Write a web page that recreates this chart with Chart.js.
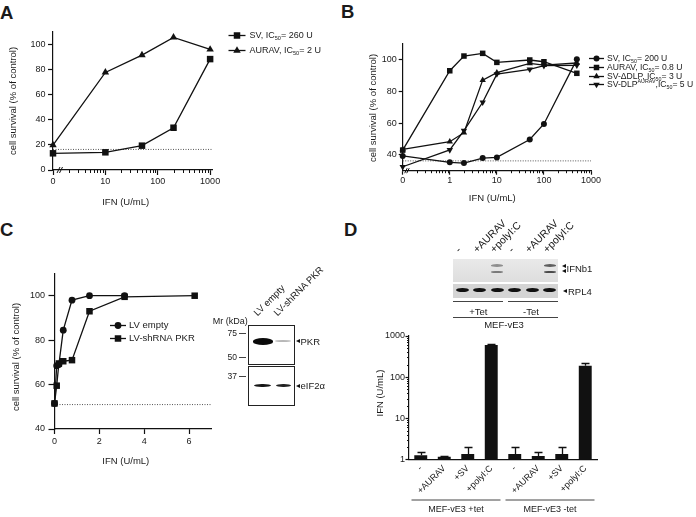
<!DOCTYPE html>
<html lang="en">
<head>
<meta charset="UTF-8">
<title>IFN sensitivity of SV and AURAV</title>
<script src="https://cdn.jsdelivr.net/npm/chart.js"></script>
<style>
  body { margin: 0; background: #fff; }
  #fig { position: relative; width: 696px; height: 517px; overflow: hidden; font-family: 'Liberation Sans', Arial, sans-serif; color: #1a1a1a; }
  #fig canvas { position: absolute; }
  .t { position: absolute; white-space: nowrap; line-height: 1; }
  .letter { position: absolute; font-weight: bold; font-size: 18.5px; line-height: 1; }
  .rot { position: absolute; white-space: nowrap; line-height: 10px; transform-origin: 0 100%; transform: rotate(-45deg); }
  .box { position: absolute; border: 1px solid #222; background: #fff; box-sizing: border-box; }
  .band { position: absolute; border-radius: 50%; filter: blur(0.6px); }
  .hl { position: absolute; height: 0; border-top: 1px solid #444; }
  .tri { position: absolute; width: 0; height: 0; border-top: 2.5px solid transparent; border-bottom: 2.5px solid transparent; border-right: 4px solid #111; }
</style>
</head>
<body>
<div id="fig">
  <div class="letter" style="left:0;top:4px">A</div>
  <div class="letter" style="left:341px;top:3px">B</div>
  <div class="letter" style="left:0;top:220.5px">C</div>
  <div class="letter" style="left:344px;top:221px">D</div>
  <canvas id="chartA"></canvas>
  <canvas id="chartB"></canvas>
  <canvas id="chartC"></canvas>
  <canvas id="chartD"></canvas>
</div>
<script>
// ---- panel A: IFN dose response, log axis ("0" drawn at 1) ----
const doseA = [1, 10, 50, 200, 1000];
const svA = [13.3, 14.1, 19.4, 33.7, 88.4];
const auravA = [19.9, 77.8, 91.6, 105.7, 96.1];
const cutoffA = 16.4;
const xTicksA = [1, 10, 100, 1000];
const xLabelsA = ['0', '10', '100', '1000'];
const yTicksA = [0, 20, 40, 60, 80, 100];

// ---- panel B ----
const doseB = [0.1, 1, 2, 5, 10, 50, 100, 500];
const svB = [39.3, 35.3, 34.8, 38, 38.4, 49.7, 59.5, 100.3];
const auravB = [43, 93.1, 102.4, 104.1, 98.4, 99.9, 98.8, 91.5];
const dDlpB = [43.5, 48.3, 54, 87.2, 91.9, 97.8, 96.7, 98];
const dlpAuravB = [32.5, 43.1, 55.3, 73.2, 91, 94, 96.3, 96.5];
const cutoffB = 36.2;
const xTicksB = [0.1, 1, 10, 100, 1000];
const xLabelsB = ['0', '1', '10', '100', '1000'];
const yTicksB = [40, 60, 80, 100];

// ---- panel C: PKR knockdown ----
const doseC = [0, 0.098, 0.195, 0.39, 0.78, 1.56, 3.125, 6.25];
const lvEmptyC = [51.5, 68.5, 69, 84.5, 98, 100, 100];
const lvShPkrC = [51.5, 59.5, 69.5, 70.5, 71, 93, 99.5, 100];
const cutoffC = 51;
const xTicksC = [0, 2, 4, 6];
const yTicksC = [40, 60, 80, 100];

// ---- panel D: IFN in supernatant (bars) ----
const catsD = ['-', '+AURAV', '+SV', '+polyI:C', '-', '+AURAV', '+SV', '+polyI:C'];
const ifnD = [1.25, 1.15, 1.35, 600, 1.35, 1.2, 1.35, 190];
const ifnErrD = [1.48, 1.22, 1.95, 650, 1.95, 1.48, 1.95, 215];
const groupsD = ['MEF-vE3 +tet', 'MEF-vE3 -tet'];
const yTicksD = [1, 10, 100, 1000];

const INK = '#111';
const FONT = "'Liberation Sans', Arial, sans-serif";
Chart.defaults.font.family = FONT;
Chart.defaults.font.size = 9;
Chart.defaults.color = '#1a1a1a';

function decadeMinors(from, to) {
  const out = [];
  for (let d = from; d < to; d *= 10) for (let k = 2; k <= 9; k++) out.push(+(k * d).toPrecision(3));
  return out;
}

function richText(ctx, str, x, y, size) {
  const parts = str.split(/(_\{[^}]*\}|\^\{[^}]*\})/).filter(Boolean);
  ctx.textBaseline = 'middle';
  ctx.textAlign = 'left';
  parts.forEach(p => {
    let t = p, s = size, dy = 0;
    if (p[0] === '_') { t = p.slice(2, -1); s = size * 0.62; dy = size * 0.3; }
    else if (p[0] === '^') { t = p.slice(2, -1); s = size * 0.62; dy = -size * 0.3; }
    ctx.font = s + 'px ' + FONT;
    ctx.fillText(t, x, y + dy);
    x += ctx.measureText(t).width;
  });
}

const minorTicks = {
  id: 'minorTicks',
  afterDraw(chart, args, o) {
    if (!o.list) return;
    const ctx = chart.ctx, a = chart.chartArea;
    o.list.forEach(m => {
      const sc = chart.scales[m.axis];
      ctx.save();
      ctx.strokeStyle = INK;
      ctx.lineWidth = 1;
      ctx.beginPath();
      m.values.forEach(v => {
        const p = Math.round(sc.getPixelForValue(v)) + 0.5;
        if (sc.isHorizontal()) { ctx.moveTo(p, a.bottom); ctx.lineTo(p, a.bottom + m.len); }
        else { ctx.moveTo(a.left, p); ctx.lineTo(a.left - m.len, p); }
      });
      ctx.stroke();
      ctx.restore();
    });
  }
};

const lineLegend = {
  id: 'lineLegend',
  afterDraw(chart, args, o) {
    if (o.x === undefined) return;
    const ctx = chart.ctx;
    let row = 0;
    chart.data.datasets.forEach(ds => {
      if (!ds.inLegend) return;
      const y = Math.round(o.y + row * o.row) + 0.5;
      row++;
      ctx.save();
      ctx.strokeStyle = ds.borderColor;
      ctx.lineWidth = ds.borderWidth;
      ctx.beginPath();
      ctx.moveTo(o.x, y);
      ctx.lineTo(o.x + o.len, y);
      ctx.stroke();
      ctx.fillStyle = ds.pointBackgroundColor;
      Chart.helpers.drawPoint(ctx, {pointStyle: ds.pointStyle, radius: ds.pointRadius, rotation: ds.pointRotation || 0, borderWidth: 0}, o.x + o.len / 2, y);
      ctx.fillStyle = '#1a1a1a';
      richText(ctx, ds.label, o.x + o.len + o.gap, y, o.size);
      ctx.restore();
    });
  }
};

const axisBreak = {
  id: 'axisBreak',
  afterDraw(chart, args, o) {
    if (o.dx === undefined) return;
    const {left, bottom} = chart.chartArea, ctx = chart.ctx;
    ctx.save();
    ctx.strokeStyle = INK;
    ctx.lineWidth = 1;
    ctx.beginPath();
    [0, o.gap].forEach(g => {
      ctx.moveTo(left + o.dx + g, bottom + o.h);
      ctx.lineTo(left + o.dx + g + o.h, bottom - o.h);
    });
    ctx.stroke();
    ctx.restore();
  }
};

const errorBars = {
  id: 'errorBars',
  afterDatasetsDraw(chart, args, o) {
    if (!o.tops) return;
    const meta = chart.getDatasetMeta(0), y = chart.scales.y, ctx = chart.ctx;
    ctx.save();
    ctx.strokeStyle = INK;
    ctx.lineWidth = 1.3;
    meta.data.forEach((bar, i) => {
      const top = Math.round(y.getPixelForValue(o.tops[i])) + 0.5;
      const x = Math.round(bar.x) + 0.5;
      ctx.beginPath();
      ctx.moveTo(x, bar.y);
      ctx.lineTo(x, top);
      ctx.moveTo(x - o.cap / 2, top);
      ctx.lineTo(x + o.cap / 2, top);
      ctx.stroke();
    });
    ctx.restore();
  }
};

const groupBrackets = {
  id: 'groupBrackets',
  afterDraw(chart, args, o) {
    if (!o.spans) return;
    const x = chart.scales.x, ctx = chart.ctx;
    const half = (x.getPixelForValue(1) - x.getPixelForValue(0)) / 2;
    ctx.save();
    o.spans.forEach((sp, i) => {
      const a = x.getPixelForValue(sp[0]) - half + o.inset;
      const b = x.getPixelForValue(sp[1]) + half - o.inset;
      ctx.strokeStyle = '#444';
      ctx.lineWidth = 1;
      ctx.beginPath();
      ctx.moveTo(a, o.lineY + 0.5);
      ctx.lineTo(b, o.lineY + 0.5);
      ctx.stroke();
      ctx.fillStyle = '#1a1a1a';
      ctx.font = '9px ' + FONT;
      ctx.textAlign = 'center';
      ctx.textBaseline = 'middle';
      ctx.fillText(groupsD[i], (a + b) / 2, o.textY);
    });
    ctx.restore();
  }
};

Chart.register(minorTicks, lineLegend, axisBreak, errorBars, groupBrackets);

function series(label, xs, ys, style, r, rot) {
  return {
    label, inLegend: true,
    data: ys.map((y, i) => ({x: xs[i], y})),
    showLine: true, borderColor: INK, borderWidth: 1.3,
    pointStyle: style, pointRadius: r, pointHoverRadius: r, pointRotation: rot || 0,
    pointBackgroundColor: INK, pointBorderWidth: 0, clip: false, order: 1
  };
}
function cutoffLine(x0, x1, y) {
  return {data: [{x: x0, y}, {x: x1, y}], showLine: true, borderColor: '#555', borderWidth: 1,
          borderDash: [1, 1.5], pointRadius: 0, clip: false, order: 5};
}

function place(el, box) {
  el.width = box.w; el.height = box.h;
  el.style.left = box.x + 'px'; el.style.top = box.y + 'px';
}

function curveChart(id, box, area, cfg) {
  const el = document.getElementById(id);
  place(el, box);
  const grid = len => ({drawOnChartArea: false, color: INK, tickLength: len, tickWidth: 1.2});
  return new Chart(el, {
    type: 'scatter',
    data: {datasets: cfg.datasets},
    options: {
      responsive: false,
      animation: false,
      layout: {padding: {left: 0, top: area.t - box.y, right: box.x + box.w - area.r, bottom: 0}},
      scales: {
        x: {
          type: cfg.x.type, min: cfg.x.min, max: cfg.x.max,
          border: {color: INK, width: 1.2},
          grid: grid(cfg.x.tick),
          afterFit: s => { s.height = box.y + box.h - area.b; },
          afterBuildTicks: s => { s.ticks = cfg.x.ticks.map(v => ({value: v})); },
          ticks: {autoSkip: false, maxRotation: 0, padding: cfg.x.pad, callback: (v, i) => cfg.x.labels[i]}
        },
        y: {
          type: 'linear', min: cfg.y.min, max: cfg.y.max,
          border: {color: INK, width: 1.2},
          grid: grid(cfg.y.tick),
          afterFit: s => { s.width = area.l - box.x; },
          afterBuildTicks: s => { s.ticks = cfg.y.ticks.map(v => ({value: v})); },
          ticks: {autoSkip: false, padding: cfg.y.pad, font: {size: cfg.y.size || 9}, callback: v => String(v)}
        }
      },
      plugins: Object.assign({legend: {display: false}, tooltip: {enabled: false}}, cfg.plugins)
    }
  });
}

// Panel A
const boxA = {x: 0, y: 0, w: 340, h: 215};
curveChart('chartA', boxA, {l: 53, t: 32, r: 212.7, b: 170}, {
  datasets: [
    series('SV, IC_{50}= 260 U', doseA, svA, 'rect', 4.6),
    series('AURAV, IC_{50}= 2 U', doseA, auravA, 'triangle', 4.3),
    cutoffLine(1, 1120, cutoffA)
  ],
  x: {type: 'logarithmic', min: 1, max: 1120, ticks: xTicksA, labels: xLabelsA, tick: 5, pad: 1.5},
  y: {min: 0, max: 110, ticks: yTicksA, tick: 5, pad: 2.5},
  plugins: {
    minorTicks: {list: [{axis: 'x', values: decadeMinors(1, 1000), len: 3}]},
    lineLegend: {x: 228.5, y: 35, row: 15, len: 17, gap: 4, size: 9},
    axisBreak: {dx: 4, gap: 2.5, h: 3}
  }
});

// Panel B
const boxB = {x: 345, y: 0, w: 351, h: 215};
curveChart('chartB', boxB, {l: 402.7, t: 44, r: 591, b: 170.7}, {
  datasets: [
    series('SV, IC_{50}= 200 U', doseB, svB, 'circle', 3),
    series('AURAV, IC_{50}= 0.8 U', doseB, auravB, 'rect', 3.9),
    series('SV-\u0394DLP, IC_{50}= 3 U', doseB, dDlpB, 'triangle', 3.7),
    series('SV-DLP^{AURAV},IC_{50}= 5 U', doseB, dlpAuravB, 'triangle', 3.7, 180),
    cutoffLine(0.1, 1000, cutoffB)
  ],
  x: {type: 'logarithmic', min: 0.1, max: 1000, ticks: xTicksB, labels: xLabelsB, tick: 4, pad: 0},
  y: {min: 30, max: 110, ticks: yTicksB, tick: 4, pad: 2, size: 9},
  plugins: {
    minorTicks: {list: [{axis: 'x', values: decadeMinors(0.1, 1000), len: 2.5}]},
    lineLegend: {x: 589 - boxB.x, y: 58, row: 8.8, len: 15, gap: 3, size: 8.6},
    axisBreak: {dx: 2, gap: 2, h: 2.5}
  }
});

// Panel C
const boxC = {x: 0, y: 250, w: 230, h: 225};
curveChart('chartC', boxC, {l: 54.5, t: 273.5, r: 211.5, b: 429}, {
  datasets: [
    series('LV empty', doseC, lvEmptyC, 'circle', 3.4),
    series('LV-shRNA PKR', doseC, lvShPkrC, 'rect', 4.6),
    cutoffLine(0, 7, cutoffC)
  ],
  x: {type: 'linear', min: 0, max: 7, ticks: xTicksC, labels: xTicksC.map(String), tick: 5, pad: 2.5},
  y: {min: 40, max: 110, ticks: yTicksC, tick: 6, pad: 3.5},
  plugins: {
    lineLegend: {x: 110, y: 325 - boxC.y, row: 12.5, len: 16, gap: 3, size: 9.5}
  }
});

// Panel D
const boxD = {x: 340, y: 240, w: 356, h: 277};
const areaD = {l: 409, t: 336, r: 597, b: 459.3};
const elD = document.getElementById('chartD');
place(elD, boxD);
new Chart(elD, {
  type: 'bar',
  data: {labels: catsD, datasets: [{data: ifnD, backgroundColor: INK, barPercentage: 0.55, categoryPercentage: 1}]},
  options: {
    responsive: false,
    animation: false,
    layout: {padding: {left: 0, top: areaD.t - boxD.y, right: boxD.x + boxD.w - areaD.r, bottom: 0}},
    scales: {
      x: {
        border: {color: INK, width: 1.2},
        grid: {drawOnChartArea: false, drawTicks: false},
        afterFit: s => { s.height = boxD.y + boxD.h - areaD.b; },
        ticks: {autoSkip: false, minRotation: 45, maxRotation: 45, padding: 4}
      },
      y: {
        type: 'logarithmic', min: 1, max: 1000,
        border: {color: INK, width: 1.2},
        grid: {drawOnChartArea: false, color: INK, tickLength: 3.5, tickWidth: 1.2},
        afterFit: s => { s.width = areaD.l - boxD.x; },
        afterBuildTicks: s => { s.ticks = yTicksD.map(v => ({value: v})); },
        ticks: {autoSkip: false, padding: 0.5, callback: v => String(v)}
      }
    },
    plugins: {
      legend: {display: false}, tooltip: {enabled: false},
      minorTicks: {list: [{axis: 'y', values: decadeMinors(1, 1000), len: 2}]},
      errorBars: {tops: ifnErrD, cap: 8},
      groupBrackets: {spans: [[0, 3], [4, 7]], inset: 2.5, lineY: 499.5 - boxD.y, textY: 509.5 - boxD.y}
    }
  }
});

// ---- text and blot images (HTML) ----
const fig = document.getElementById('fig');
function add(cls, style, html) {
  const d = document.createElement('div');
  d.className = cls;
  Object.assign(d.style, style);
  if (html !== undefined) d.innerHTML = html;
  fig.appendChild(d);
  return d;
}
function text(str, x, y, size, anchor, rot) {
  const tr = anchor === 'center' ? 'translate(-50%,-50%)' : anchor === 'right' ? 'translate(-100%,-50%)' : 'translate(0,-50%)';
  add('t', {left: x + 'px', top: y + 'px', fontSize: size + 'px', transform: tr + (rot ? ' rotate(' + rot + 'deg)' : '')}, str);
}
function slanted(str, x, y, size) {
  add('rot', {left: x + 'px', top: (y - 10) + 'px', fontSize: size + 'px'}, str);
}
function rect(x, y, w, h, bg, cls) {
  return add(cls || 'box', {left: x + 'px', top: y + 'px', width: w + 'px', height: h + 'px', background: bg});
}
function hline(x0, x1, y) { add('hl', {left: x0 + 'px', top: y + 'px', width: (x1 - x0) + 'px'}); }
function arrow(x, y) { add('tri', {left: x + 'px', top: (y - 2.5) + 'px'}); }

// axis titles
text('IFN (U/mL)', 125.7, 201.7, 9.5, 'center');
text('cell survival (% of control)', 13.3, 100.8, 9.5, 'center', -90);
text('IFN (U/mL)', 492.3, 198.3, 9.5, 'center');
text('cell survival (% of control)', 373, 108, 9.5, 'center', -90);
text('IFN (U/mL)', 125.8, 460.7, 9.5, 'center');
text('cell survival (% of control)', 16, 356.7, 9.5, 'center', -90);
text('IFN (U/mL)', 380, 392.5, 9.5, 'center', -90);

// panel C western blot
text('Mr (kDa)', 212.7, 320.7, 9, 'left');
[['75', 333.3], ['50', 357.3], ['37', 376]].forEach(m => {
  text(m[0], 237, m[1], 8.5, 'right');
  hline(239, 245.5, m[1] - 0.5);
});
slanted('LV empty', 259, 318, 9.5);
slanted('LV-shRNA PKR', 279, 318, 9.5);
rect(248.3, 325, 46.7, 39.5, '#fff');
rect(248.3, 366, 46.7, 40, '#fff');
rect(252.5, 338.2, 20.5, 6.4, '#0a0a0a', 'band');
rect(274.5, 340.3, 16.5, 2.2, '#b8b8b8', 'band');
rect(254, 383.8, 16.5, 3.2, '#161616', 'band');
rect(275.5, 383.8, 15, 3.2, '#222', 'band');
arrow(296, 341.5); text('PKR', 300.5, 341.5, 9.5, 'left');
arrow(296, 386); text('eIF2&alpha;', 300.5, 386, 9.5, 'left');

// panel D RT-PCR gel
const gelLanes = ['-', '+AURAV', '+polyI:C', '-', '+AURAV', '+polyI:C'];
const gelX = 453.3, gelW = 105, laneW = gelW / gelLanes.length;
rect(gelX, 259, gelW, 23, 'linear-gradient(#e9e9e9,#dedede)', 't');
rect(gelX, 283.5, gelW, 14.5, '#d4d4d4', 't');
gelLanes.forEach((lab, i) => {
  const c = gelX + (i + 0.5) * laneW;
  slanted(lab, c - 2, 254, 10.5);
  rect(c - 6.5, 288.3, 13, 4, '#101010', 'band');
  if (lab === '+polyI:C') {
    const strong = i > 2;
    rect(c - 6, 264.3, 12, 2.6, strong ? '#5e5e5e' : '#8e8e8e', 'band');
    rect(c - 6, 270.7, 12, 2.8, strong ? '#4a4a4a' : '#7a7a7a', 'band');
  }
});
arrow(562, 266.3); arrow(562, 271.8); text('IFNb1', 566.5, 269.3, 9.5, 'left');
arrow(562.5, 291.5); text('RPL4', 568, 291.5, 9.5, 'left');
hline(453.3, 503.3, 301.3);
hline(507.7, 558.3, 301.3);
text('+Tet', 478.3, 311.7, 9.5, 'center');
text('-Tet', 531, 311.7, 9.5, 'center');
hline(453.3, 558.3, 317.3);
text('MEF-vE3', 504, 324.5, 9.5, 'center');
</script>
</body>
</html>
